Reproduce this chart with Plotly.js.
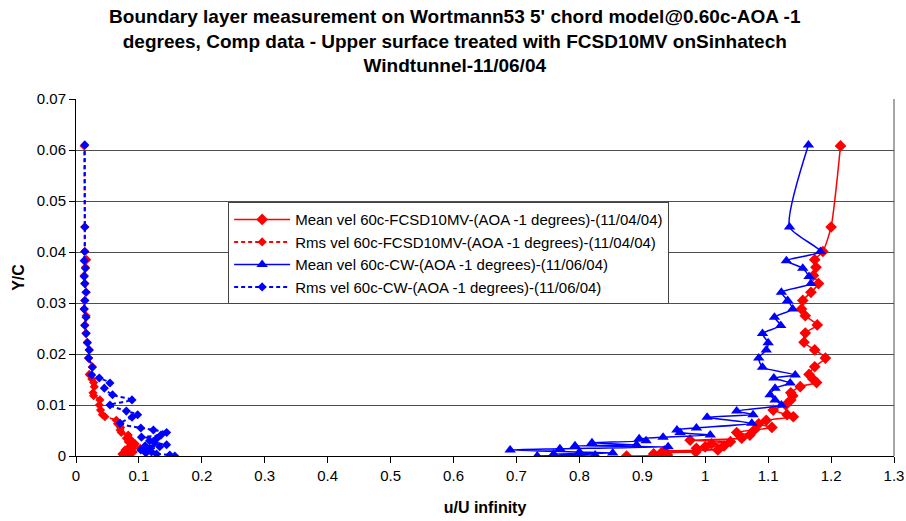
<!DOCTYPE html>
<html>
<head>
<meta charset="utf-8">
<script src="https://cdn.plot.ly/plotly-3.0.1.min.js"></script>
<style>html,body{margin:0;padding:0;background:#fff;}#chart{width:906px;height:521px;}</style>
</head>
<body>
<div id="chart"></div>
<script>
// ---- data ----
const seriesNames = [
  "Mean vel 60c-FCSD10MV-(AOA -1 degrees)-(11/04/04)",
  "Rms vel 60c-FCSD10MV-(AOA -1 degrees)-(11/04/04)",
  "Mean vel 60c-CW-(AOA -1 degrees)-(11/06/04)",
  "Rms vel 60c-CW-(AOA -1 degrees)-(11/06/04)"
];
const titleLines = [
  "Boundary layer measurement on Wortmann53 5' chord model@0.60c-AOA -1",
  "degrees, Comp data - Upper surface treated with FCSD10MV onSinhatech",
  "Windtunnel-11/06/04"
];
const xTitle = "u/U infinity";
const yTitle = "Y/C";

// FCSD10MV run (11/04/04): Y/C positions
const yFCSD = [0.0000,0.0002,0.0004,0.0006,0.0008,0.0010,0.0012,0.0015,0.0018,0.0020,
               0.0024,0.0028,0.0031,0.0035,0.0041,0.0046,0.0051,0.0056,0.0063,0.0070,
               0.0077,0.0081,0.0090,0.0100,0.0110,0.0118,0.0124,0.0136,0.0144,0.0151,
               0.0160,0.0175,0.0192,0.0208,0.0223,0.0241,0.0257,0.0275,0.0288,0.0305,
               0.0321,0.0338,0.0354,0.0370,0.0385,0.0401,0.0449,0.0608];
const meanFCSD = [0.875,0.940,0.918,0.930,0.985,0.935,1.020,0.986,1.000,1.030,
                  1.010,1.040,0.976,1.058,1.071,1.050,1.078,1.106,1.085,1.097,
                  1.140,1.130,1.108,1.128,1.136,1.139,1.136,1.151,1.177,1.171,
                  1.165,1.174,1.191,1.174,1.157,1.159,1.178,1.159,1.153,1.155,
                  1.168,1.180,1.172,1.176,1.174,1.187,1.200,1.215];
const rmsFCSD = [0.075,0.080,0.073,0.088,0.091,0.082,0.078,0.102,0.085,0.092,
                 0.094,0.083,0.088,0.080,0.083,0.072,0.070,0.071,0.066,0.064,
                 0.046,0.042,0.039,0.037,0.038,0.028,0.027,0.029,0.028,0.025,
                 0.021,0.026,0.020,0.021,0.018,0.016,0.014,0.016,0.013,0.014,
                 0.016,0.014,0.013,0.015,0.017,0.014,0.014,0.013];

// CW run (11/06/04): Y/C positions
const yCW = [0.0000,0.0002,0.0004,0.0006,0.0008,0.0012,0.0014,0.0018,0.0020,0.0022,
             0.0026,0.0030,0.0034,0.0037,0.0041,0.0046,0.0051,0.0055,0.0064,0.0076,
             0.0081,0.0088,0.0100,0.0110,0.0120,0.0133,0.0143,0.0153,0.0159,0.0174,
             0.0192,0.0208,0.0222,0.0240,0.0256,0.0272,0.0288,0.0305,0.0321,0.0338,
             0.0352,0.0368,0.0383,0.0401,0.0449,0.0610];
const meanCW = [0.733,0.825,0.759,0.853,0.800,0.690,0.769,0.941,0.793,0.891,
                0.820,0.906,0.895,0.933,1.008,0.960,0.955,0.986,1.074,1.003,
                1.076,1.050,1.121,1.111,1.103,1.111,1.135,1.109,1.143,1.091,
                1.085,1.097,1.100,1.091,1.120,1.110,1.139,1.131,1.121,1.168,
                1.165,1.155,1.129,1.183,1.134,1.164];
const rmsCW = [0.157,0.149,0.128,0.111,0.120,0.103,0.117,0.133,0.110,0.144,
               0.125,0.117,0.128,0.104,0.135,0.144,0.123,0.103,0.070,0.089,
               0.098,0.080,0.054,0.089,0.058,0.045,0.054,0.037,0.025,0.026,
               0.020,0.021,0.018,0.016,0.014,0.016,0.013,0.014,0.016,0.014,
               0.013,0.015,0.013,0.014,0.014,0.014];

const xTickVals = [0,0.1,0.2,0.3,0.4,0.5,0.6,0.7,0.8,0.9,1,1.1,1.2,1.3];
const xTickText = ["0","0.1","0.2","0.3","0.4","0.5","0.6","0.7","0.8","0.9","1","1.1","1.2","1.3"];
const yTickVals = [0,0.01,0.02,0.03,0.04,0.05,0.06,0.07];
const yTickText = ["0","0.01","0.02","0.03","0.04","0.05","0.06","0.07"];

// ---- chart ----
const FONT = '"Liberation Sans", Arial, sans-serif';
const RED = '#FF0000', BLUE = '#0000FF';

const traces = [
  {x: meanFCSD, y: yFCSD, name: seriesNames[0], type: 'scatter', mode: 'lines+markers',
   line: {color: RED, width: 1.5, shape: 'spline', smoothing: 0.6},
   marker: {symbol: 'diamond', size: 9, color: RED}},
  {x: rmsFCSD, y: yFCSD, name: seriesNames[1], type: 'scatter', mode: 'lines+markers',
   line: {color: RED, width: 2, dash: '4px,3px', shape: 'spline', smoothing: 0.6},
   marker: {symbol: 'diamond', size: 7, color: RED}},
  {x: meanCW, y: yCW, name: seriesNames[2], type: 'scatter', mode: 'lines+markers',
   line: {color: BLUE, width: 1.5, shape: 'spline', smoothing: 0.6},
   marker: {symbol: 'triangle-up', size: 10, color: BLUE}},
  {x: rmsCW, y: yCW, name: seriesNames[3], type: 'scatter', mode: 'lines+markers',
   line: {color: BLUE, width: 2, dash: '4px,3px', shape: 'spline', smoothing: 0.6},
   marker: {symbol: 'diamond', size: 7, color: BLUE}}
];

const layout = {
  width: 906, height: 521,
  margin: {l: 76, r: 12, t: 99, b: 65},
  paper_bgcolor: '#fff', plot_bgcolor: '#fff',
  font: {family: FONT, color: '#000', size: 15},
  title: {
    text: titleLines.map(t => '<b>' + t + '</b>').join('<br>'),
    font: {family: FONT, size: 19, color: '#000'},
    x: 0.502, xanchor: 'center', xref: 'container',
    y: 0.956, yanchor: 'top', yref: 'container'
  },
  showlegend: true,
  legend: {
    x: 0.186, y: 0.711, xanchor: 'left', yanchor: 'top',
    bgcolor: '#fff', bordercolor: '#444', borderwidth: 1,
    font: {family: FONT, size: 15, color: '#000'},
    itemwidth: 56, tracegroupgap: 0
  },
  xaxis: {
    range: [0, 1.3], tickvals: xTickVals, ticktext: xTickText,
    ticks: 'outside', ticklen: 6, tickcolor: '#000', tickwidth: 1,
    showline: true, linecolor: '#000', linewidth: 1, showgrid: false, zeroline: false,
    tickfont: {family: FONT, size: 15, color: '#000'},
    title: {text: '<b>' + xTitle + '</b>', font: {family: FONT, size: 16, color: '#000'}, standoff: 18}
  },
  yaxis: {
    range: [0, 0.07], tickvals: yTickVals, ticktext: yTickText,
    ticks: 'outside', ticklen: 6, tickcolor: '#000', tickwidth: 1,
    showline: true, linecolor: '#000', linewidth: 1, mirror: false,
    showgrid: true, gridcolor: '#4d4d4d', gridwidth: 1, zeroline: false,
    tickfont: {family: FONT, size: 15, color: '#000'},
    title: {text: '<b>' + yTitle + '</b>', font: {family: FONT, size: 16, color: '#000'}, standoff: 8}
  },
  shapes: [
    {type: 'line', xref: 'paper', yref: 'paper', x0: 1, x1: 1, y0: 0, y1: 1,
     line: {color: '#4d4d4d', width: 1}}
  ]
};

Plotly.newPlot('chart', traces, layout, {displayModeBar: false, staticPlot: true});
</script>
</body>
</html>
